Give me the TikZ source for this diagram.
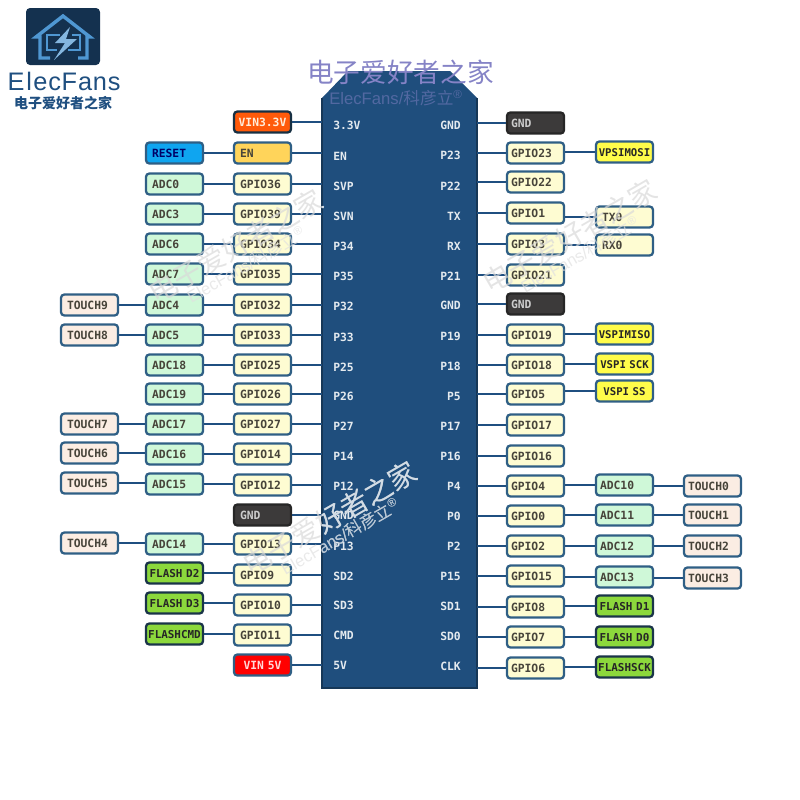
\documentclass[tikz,border=0pt]{standalone}
\usepackage{xcolor}
\usepackage{fontspec}
\setmonofont{DejaVu Sans Mono}
\setsansfont{Liberation Sans}
\newfontfamily\cjk{Noto Sans CJK SC}
\usepackage{tikz}
\usetikzlibrary{
    arrows.meta,
    positioning,
    calc
}
\definecolor{chipblue}{HTML}{1F4E7D}
\definecolor{wireblue}{HTML}{1F4F80}
\definecolor{edgeblue}{HTML}{2F5F85}
\definecolor{logoblue}{HTML}{4F97D2}
\definecolor{logodark}{HTML}{14314F}
\definecolor{markpurple}{HTML}{8583C6}
\definecolor{gpiofill}{HTML}{FEFCD2}
\definecolor{adcfill}{HTML}{CFF8D8}
\definecolor{touchfill}{HTML}{FBEDE3}
\definecolor{flashfill}{HTML}{8CD83C}
\definecolor{spifill}{HTML}{FFFC4A}
\definecolor{gndfill}{HTML}{3C3A3A}
\definecolor{orangefill}{HTML}{FF5A0A}
\definecolor{rstfill}{HTML}{0FA5F0}
\definecolor{enfill}{HTML}{FFD45A}
\tikzset{
  pinbox/.style={draw=edgeblue,line width=1.7pt,rounded corners=2.5pt,
    minimum width=42.75pt,minimum height=15.75pt,inner ysep=0pt,
    text height=6.2pt,text depth=0pt,text=black!72!yellow!60!black,
    font=\ttfamily\bfseries\fontsize{8.5}{8.5}\selectfont},
  leftpad/.style={inner xsep=4.5pt,text width=33.75pt,align=left},
  rightpad/.style={inner xsep=3pt,text width=36.75pt,align=left},
  midpad/.style={inner xsep=0pt,text width=42.75pt,align=center},
  gpiol/.style={pinbox,leftpad,fill=gpiofill},
  gpior/.style={pinbox,rightpad,fill=gpiofill},
  adcl/.style={pinbox,leftpad,fill=adcfill},
  adcr/.style={pinbox,rightpad,fill=adcfill},
  touchbox/.style={pinbox,leftpad,fill=touchfill},
  flashbox/.style={pinbox,midpad,fill=flashfill,draw=black!45!edgeblue,text=black!85,
    font=\ttfamily\bfseries\fontsize{8.2}{8.2}\selectfont},
  spibox/.style={pinbox,midpad,fill=spifill,text=black!85,
    font=\ttfamily\bfseries\fontsize{8}{8}\selectfont},
  gndbox/.style={pinbox,rightpad,fill=gndfill,draw=black!85,text=white!80!black},
  gndboxl/.style={gndbox,leftpad},
  orangebox/.style={pinbox,midpad,fill=orangefill,draw=black!50!edgeblue,text=white!85!orange},
  redbox/.style={pinbox,midpad,fill=red,text=white!85!red},
  rstbox/.style={pinbox,leftpad,fill=rstfill,text=black!60!blue},
  enbox/.style={pinbox,leftpad,fill=enfill},
  pinlabel/.style={text=white!88!chipblue,inner sep=0pt,
    font=\ttfamily\bfseries\fontsize{8.5}{8.5}\selectfont},
  wire/.style={draw=wireblue,line width=1.5pt},
  markbig/.style={font=\cjk\fontsize{21}{21}\selectfont,rotate=30,inner sep=0pt},
  marksmall/.style={font=\sffamily\fontsize{12.5}{12.5}\selectfont,rotate=30,inner sep=0pt}
}
\begin{document}
\begin{tikzpicture}[x=0.75pt,y=-0.75pt]
  \useasboundingbox (0,0) rectangle (800,800);
  \def\colA{262.5}
  \def\colB{174.5}
  \def\colC{89.5}
  \def\colD{535.5}
  \def\colE{624.5}
  \def\colF{712.5}
  % chip body
  \coordinate (chipL) at (322,0);
  \coordinate (chipR) at (477,0);
  \fill[chipblue] (322,98) -- (348,71) -- (450,71) -- (477,98) -- (477,688) -- (322,688) -- cycle;
  \draw[black!30!chipblue,line width=1pt] (322,98) -- (322,688) -- (477,688) -- (477,98);
  % left side
  \foreach \i/\y/\txt/\pin/\py/\st in {1/122/VIN3.3V/3.3V/125/orangebox,2/153/EN/EN/156/enbox,
     3/184/GPIO36/SVP/186/gpiol,4/214/GPIO39/SVN/216/gpiol,5/244/GPIO34/P34/246/gpiol,
     6/274/GPIO35/P35/276/gpiol,7/305/GPIO32/P32/306/gpiol,8/335/GPIO33/P33/337/gpiol,
     9/365/GPIO25/P25/367/gpiol,10/394/GPIO26/P26/396/gpiol,11/424/GPIO27/P27/426/gpiol,
     12/454/GPIO14/P14/456/gpiol,13/485/GPIO12/P12/486/gpiol,14/515/GND/GND/515/gndboxl,
     15/544/GPIO13/P13/546/gpiol,16/575/GPIO9/SD2/576/gpiol,17/605/GPIO10/SD3/605/gpiol,
     18/635/GPIO11/CMD/635/gpiol,19/665/VIN 5V/5V/665/redbox}
     {\node[\st] (lg\i) at (\colA,\y) {\txt};
      \node[pinlabel,anchor=west] (lp\i) at (333,\py) {\pin};
      \draw[wire] (lg\i.east) -- (lg\i.east -| chipL);}
  \foreach \i/\y/\txt/\st in {2/153/RESET/rstbox,3/184/ADC0/adcl,4/214/ADC3/adcl,5/244/ADC6/adcl,
     6/274/ADC7/adcl,7/305/ADC4/adcl,8/335/ADC5/adcl,9/365/ADC18/adcl,10/394/ADC19/adcl,
     11/424/ADC17/adcl,12/454/ADC16/adcl,13/484/ADC15/adcl,15/544/ADC14/adcl,
     16/573/FLASH D2/flashbox,17/603/FLASH D3/flashbox,18/634/FLASHCMD/flashbox}
     {\node[\st] (la\i) at (\colB,\y) {\txt};
      \draw[wire] (la\i.east) -- (la\i.east -| lg\i.west);}
  \foreach \i/\y/\txt in {7/305/TOUCH9,8/335/TOUCH8,11/424/TOUCH7,12/453/TOUCH6,13/483/TOUCH5,15/543/TOUCH4}
     {\node[touchbox] (lt\i) at (\colC,\y) {\txt};
      \draw[wire] (lt\i.east) -- (lt\i.east -| la\i.west);}
  % right side
  \foreach \i/\y/\txt/\pin/\py/\st in {1/123/GND/GND/125/gndbox,2/153/GPIO23/P23/155/gpior,
     3/182/GPIO22/P22/186/gpior,4/213/GPIO1/TX/216/gpior,5/244/GPIO3/RX/246/gpior,
     6/275/GPIO21/P21/276/gpior,7/304/GND/GND/305/gndbox,8/335/GPIO19/P19/336/gpior,
     9/365/GPIO18/P18/366/gpior,10/394/GPIO5/P5/396/gpior,11/425/GPIO17/P17/426/gpior,
     12/456/GPIO16/P16/456/gpior,13/486/GPIO4/P4/486/gpior,14/516/GPIO0/P0/516/gpior,
     15/546/GPIO2/P2/546/gpior,16/576/GPIO15/P15/576/gpior,17/607/GPIO8/SD1/606/gpior,
     18/637/GPIO7/SD0/636/gpior,19/668/GPIO6/CLK/666/gpior}
     {\node[\st] (rg\i) at (\colD,\y) {\txt};
      \node[pinlabel,anchor=east] (rp\i) at (461,\py) {\pin};
      \draw[wire] (rg\i.west) -- (rg\i.west -| chipR);}
  \foreach \i/\y/\txt/\st in {2/152/VPSIMOSI/spibox,4/217/TX0/gpiol,5/245/RX0/gpiol,
     8/334/VSPIMISO/spibox,9/364/VSPI SCK/spibox,10/391/VSPI SS/spibox,
     13/485/ADC10/adcr,14/515/ADC11/adcr,15/546/ADC12/adcr,16/577/ADC13/adcr,
     17/606/FLASH D1/flashbox,18/637/FLASH D0/flashbox,19/667/FLASHSCK/flashbox}
     {\node[\st] (ra\i) at (\colE,\y) {\txt};
      \draw[wire] (ra\i.west) -- (ra\i.west -| rg\i.east);}
  \foreach \i/\y/\txt in {13/486/TOUCH0,14/515/TOUCH1,15/546/TOUCH2,16/578/TOUCH3}
     {\node[touchbox,rightpad] (rt\i) at (\colF,\y) {\txt};
      \draw[wire] (rt\i.west) -- (rt\i.west -| ra\i.east);}
  % logo
  \fill[logodark,rounded corners=3pt] (26,8) rectangle (100,65);
  \draw[logoblue,line width=2.6pt,line join=miter] (50,58) -- (40,58) -- (40,37) -- (36,37) -- (63,16) -- (90,37) -- (87,37) -- (87,58) -- (78,58);
  \draw[logoblue,line width=2pt] (60,35) -- (47,35) -- (47,50) -- (57,50);
  \draw[logoblue,line width=2pt] (72,35) -- (80,35) -- (80,50) -- (68,50);
  \fill[logoblue!70!white] (70,27) -- (55,43) -- (65,43) -- (54,60) -- (77,39) -- (66,39) -- cycle;
  \node[text=wireblue,inner sep=0pt,font=\sffamily\fontsize{19}{19}\selectfont] (logotext) at (64,81) {E\kern1.5pt l\kern1pt e\kern.6pt c\kern.6pt F\kern.6pt a\kern.6pt n\kern.6pt s};
  \node[text=wireblue,inner sep=0pt,font=\cjk\bfseries\fontsize{10.5}{10.5}\selectfont] (logocn) at (63,103) {电子爱好者之家};
  % watermarks
  \node[text=markpurple,inner sep=0pt,font=\cjk\fontsize{20}{20}\selectfont] (topmark) at (400.5,72) {电子爱好者之家};
  \node[text=markpurple,opacity=.5,inner sep=0pt,font=\sffamily\fontsize{12.5}{12.5}\selectfont] (topsub) at (396,98) {ElecFans/{\cjk 科彦立}\textsuperscript{®}};
  \foreach \n/\x/\y in {a/330/518,b/236/246,c/570/236}
     {\node[markbig,text=black!15,opacity=.7] (mk\n) at (\x,\y) {电子爱好者之家};
      \node[marksmall,text=black!12,opacity=.7] (ms\n) at (\x+10,\y+19) {ElecFans/{\cjk 科彦立}\textsuperscript{®}};}
  \begin{scope}
    \clip (322,98) rectangle (477,688);
    \foreach \n/\x/\y in {a/330/518,b/236/246}
       {\node[markbig,text=white!80!chipblue] (wk\n) at (\x,\y) {电子爱好者之家};
        \node[marksmall,text=white!70!chipblue] (ws\n) at (\x+10,\y+19) {ElecFans/{\cjk 科彦立}\textsuperscript{®}};}
  \end{scope}
\end{tikzpicture}
\end{document}
